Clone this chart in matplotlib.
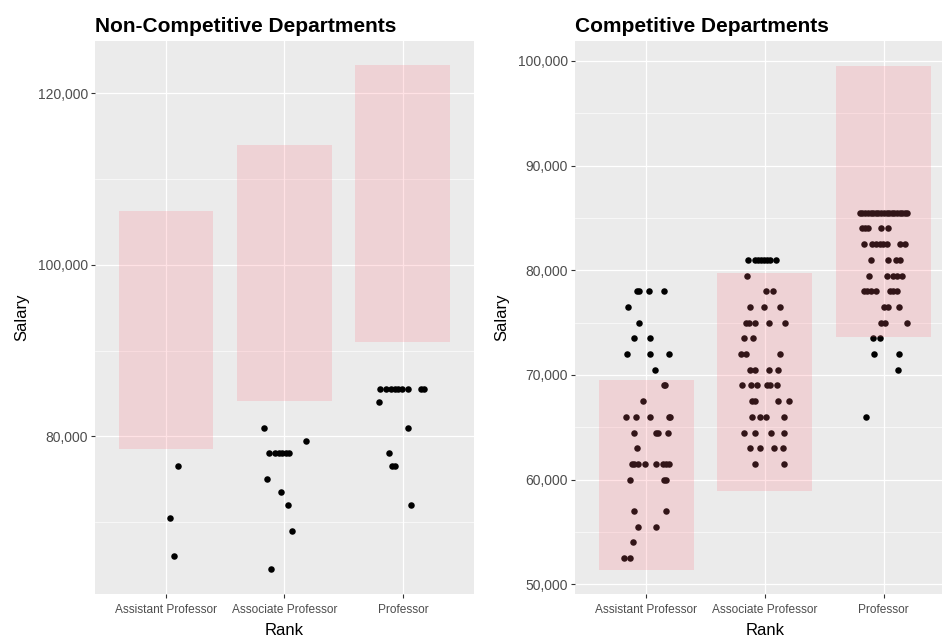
import numpy as np
import matplotlib
matplotlib.use("Agg")
import matplotlib.pyplot as plt
from matplotlib.ticker import FuncFormatter, FixedLocator

plt.rcParams['font.family'] = ['Liberation Sans', 'DejaVu Sans']

ranks = ["Assistant Professor", "Associate Professor", "Professor"]

# shaded salary ranges per rank
nc_low = [78500, 84150, 91030]
nc_high = [106250, 113950, 123250]
c_low = [51400, 58900, 73650]
c_high = [69550, 79700, 99550]

# non-competitive departments: salaries and horizontal jitter
nc_asst_salary = [76500, 70500, 66000]
nc_asst_jitter = [0.10, 0.03, 0.07]
nc_assoc_salary = [81000, 78000, 78000, 78000, 78000, 78000, 78000, 79500,
                   75000, 73500, 72000, 69000, 64500]
nc_assoc_jitter = [-0.17, -0.13, -0.08, -0.05, -0.02, 0.01, 0.04, 0.18,
                   -0.15, -0.03, 0.03, 0.06, -0.11]
nc_prof_salary = [85500, 85500, 85500, 85500, 85500, 85500, 85500, 85500, 85500,
                  84000, 81000, 78000, 76500, 76500, 72000]
nc_prof_jitter = [-0.19, -0.14, -0.10, -0.07, -0.04, -0.01, 0.04, 0.15, 0.18,
                  -0.20, 0.04, -0.12, -0.09, -0.07, 0.07]

# competitive departments
c_asst_salary = [78000, 78000, 78000, 78000, 76500, 75000, 73500, 73500,
                 72000, 72000, 72000, 70500, 69000, 69000, 67500,
                 66000, 66000, 66000, 66000, 66000, 64500, 64500, 64500, 64500,
                 63000, 61500, 61500, 61500, 61500, 61500, 61500, 61500, 61500,
                 60000, 60000, 60000, 57000, 57000, 55500, 55500, 54000,
                 52500, 52500]
c_asst_jitter = [-0.08, -0.06, 0.02, 0.15, -0.15, -0.06, -0.10, 0.03,
                 -0.16, 0.03, 0.19, 0.07, 0.15, 0.16, -0.03,
                 -0.17, -0.09, 0.03, 0.19, 0.20, -0.10, 0.08, 0.10, 0.18,
                 -0.08, -0.12, -0.10, -0.07, -0.01, 0.08, 0.14, 0.17, 0.19,
                 -0.14, 0.15, 0.17, -0.10, 0.17, -0.07, 0.08, -0.11,
                 -0.19, -0.14]
c_assoc_salary = [81000, 81000, 81000, 81000, 81000, 81000, 81000, 81000,
                  79500, 78000, 78000, 76500, 76500, 76500,
                  75000, 75000, 75000, 75000, 75000, 73500, 73500,
                  72000, 72000, 72000, 70500, 70500, 70500, 70500,
                  69000, 69000, 69000, 69000, 69000, 69000,
                  67500, 67500, 67500, 67500, 66000, 66000, 66000, 66000,
                  64500, 64500, 64500, 64500, 63000, 63000, 63000, 63000,
                  61500, 61500]
c_assoc_jitter = [-0.14, -0.08, -0.055, -0.03, -0.005, 0.02, 0.045, 0.09,
                  -0.15, 0.01, 0.07, -0.13, -0.01, 0.13,
                  -0.16, -0.135, -0.08, 0.03, 0.17, -0.18, -0.10,
                  -0.20, -0.16, 0.13, -0.13, -0.08, 0.03, 0.11,
                  -0.19, -0.12, -0.065, 0.02, 0.045, 0.10,
                  -0.11, -0.085, 0.11, 0.20, -0.11, -0.045, 0.01, 0.16,
                  -0.18, -0.08, 0.05, 0.16, -0.13, -0.045, 0.08, 0.15,
                  -0.085, 0.16]
c_prof_salary = [85500] * 19 + [84000, 84000, 84000, 84000, 84000,
                  82500, 82500, 82500, 82500, 82500, 82500, 82500, 82500,
                  81000, 81000, 81000, 81000, 79500, 79500, 79500, 79500, 79500,
                  78000, 78000, 78000, 78000, 78000, 78000, 78000,
                  76500, 76500, 76500, 75000, 75000, 75000, 73500, 73500,
                  72000, 72000, 70500, 66000]
c_prof_jitter = [-0.20, -0.18, -0.155, -0.135, -0.11, -0.09, -0.065, -0.045, -0.02,
                 0.0, 0.025, 0.045, 0.07, 0.09, 0.11, 0.135, 0.155, 0.175, 0.195,
                 -0.185, -0.16, -0.135, -0.02, 0.04,
                 -0.17, -0.095, -0.065, -0.035, -0.01, 0.03, 0.14, 0.18,
                 -0.11, 0.04, 0.10, 0.135, -0.12, 0.03, 0.075, 0.115, 0.15,
                 -0.165, -0.14, -0.11, -0.065, 0.05, 0.08, 0.115,
                 0.0, 0.04, 0.125, -0.025, 0.01, 0.195, -0.09, -0.03,
                 -0.08, 0.13, 0.12, -0.15]

BG = "#EBEBEB"
RECT = (1.0, 0.43, 0.49)


def draw_panel(ax, groups, low, high, ylim, major, minor, title):
    ax.set_facecolor(BG)
    for s in ax.spines.values():
        s.set_visible(False)
    ax.set_axisbelow(True)
    for i, (sal, jit) in enumerate(groups):
        x = (i + 1) + np.array(jit)
        ax.scatter(x, sal, s=22, color="black", linewidths=0, zorder=2)
    pos = np.arange(1, len(ranks) + 1)
    ax.bar(pos, np.array(high) - np.array(low), bottom=low, width=0.8,
           color=RECT, alpha=0.2, linewidth=0, zorder=3)
    ax.set_xlim(0.4, 3.6)
    ax.set_ylim(*ylim)
    ax.set_xticks(pos)
    ax.set_xticklabels(ranks, fontsize=8.6, color="#4D4D4D")
    ax.yaxis.set_major_locator(FixedLocator(major))
    ax.yaxis.set_minor_locator(FixedLocator(minor))
    ax.yaxis.set_major_formatter(FuncFormatter(lambda v, p: f"{int(v):,}"))
    ax.tick_params(axis="y", labelsize=10, labelcolor="#4D4D4D", pad=2)
    ax.tick_params(axis="x", pad=4)
    ax.tick_params(which="major", length=3.1, width=0.8, color="#333333")
    ax.tick_params(which="minor", length=0)
    ax.grid(which="major", color="white", linewidth=0.9)
    ax.grid(which="minor", axis="y", color="white", linewidth=0.45)
    ax.set_xlabel("Rank", fontsize=12, labelpad=5)
    ax.set_ylabel("Salary", fontsize=12, labelpad=6)
    ax.set_title(title, loc="left", fontsize=15, fontweight="bold", pad=6)


fig = plt.figure(figsize=(9.42, 6.37), dpi=100)
ax1 = fig.add_axes([0.1008, 0.0675, 0.4023, 0.8686])
ax2 = fig.add_axes([0.6104, 0.0675, 0.4034, 0.8686])

draw_panel(ax1,
           [(nc_asst_salary, nc_asst_jitter), (nc_assoc_salary, nc_assoc_jitter),
            (nc_prof_salary, nc_prof_jitter)],
           nc_low, nc_high, (61610, 126134),
           [80000, 100000, 120000], [70000, 90000, 110000],
           "Non-Competitive Departments")
draw_panel(ax2,
           [(c_asst_salary, c_asst_jitter), (c_assoc_salary, c_assoc_jitter),
            (c_prof_salary, c_prof_jitter)],
           c_low, c_high, (49075, 101933),
           [50000, 60000, 70000, 80000, 90000, 100000],
           [55000, 65000, 75000, 85000, 95000],
           "Competitive Departments")

fig.savefig("out.png", dpi=100)
